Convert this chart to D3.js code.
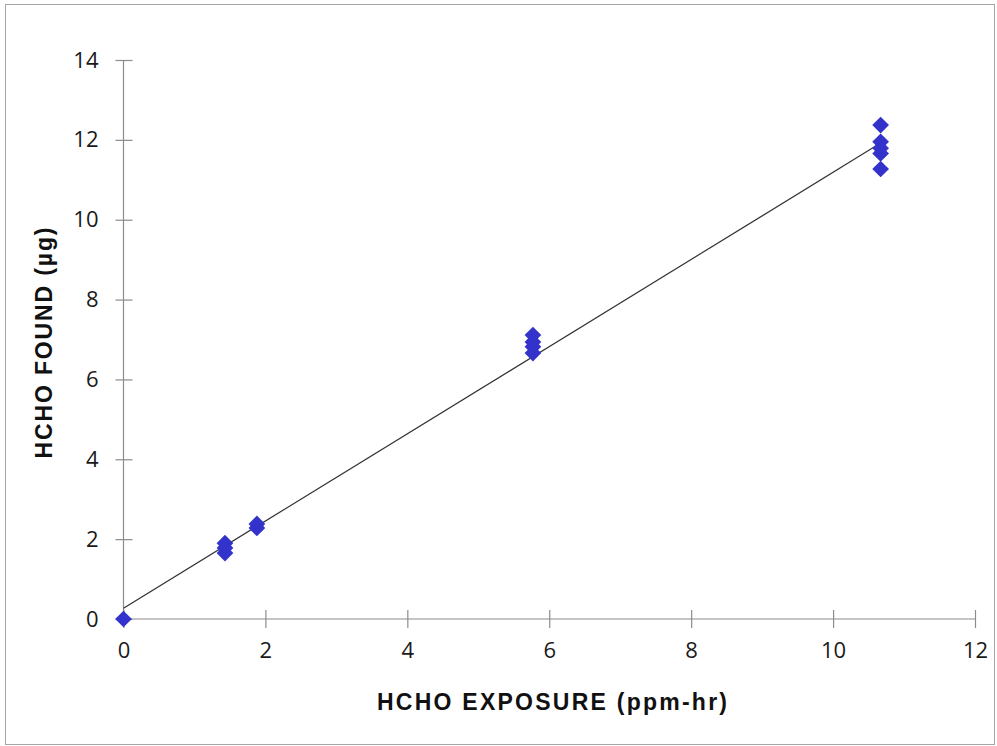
<!DOCTYPE html>
<html><head><meta charset="utf-8">
<script src="https://cdn.jsdelivr.net/npm/d3@7"></script>
<style>body{margin:0;background:#fff}</style>
</head><body>
<script>
const exposure = [0, 1.43, 1.43, 1.43, 1.88, 1.88, 5.77, 5.77, 5.77, 5.77, 10.67, 10.67, 10.67, 10.67, 10.67];
const found    = [0, 1.90, 1.78, 1.65, 2.38, 2.28, 7.11, 6.94, 6.82, 6.66, 12.37, 11.95, 11.79, 11.66, 11.27];
const trendX = [0, 10.67];
const trendY = [0.27, 11.92];
const xTicks = [0, 2, 4, 6, 8, 10, 12];
const yTicks = [0, 2, 4, 6, 8, 10, 12, 14];

const W = 997, H = 746;
const svg = d3.select("body").append("svg").attr("width", W).attr("height", H);
svg.append("rect").attr("x", 5.5).attr("y", 4.5).attr("width", 989).attr("height", 740)
  .attr("fill", "#fff").attr("stroke", "#a6a6a6").attr("stroke-width", 1);

const x = d3.scaleLinear().domain([0, 12]).range([123.5, 975]);
const y = d3.scaleLinear().domain([0, 14]).range([619, 60]);

const axisColor = "#8c8c8c";
const tickFont = "Open Sans, Liberation Sans, sans-serif";
// y axis
const gy = svg.append("g").attr("transform", `translate(${x(0)},0)`)
  .call(d3.axisLeft(y).tickValues(yTicks).tickSize(8).tickPadding(17).tickFormat(d3.format("d")));
gy.selectAll(".tick line").attr("x2", 9).attr("x1", -8);
// x axis
const gx = svg.append("g").attr("transform", `translate(0,${y(0)})`)
  .call(d3.axisBottom(x).tickValues(xTicks).tickSize(9).tickPadding(14).tickFormat(d3.format("d")));
gx.selectAll(".tick line").attr("y1", -9).attr("y2", 9);
[gx, gy].forEach(g => {
  g.select(".domain").attr("stroke", axisColor).attr("stroke-width", 1.2);
  g.selectAll(".tick line").attr("stroke", axisColor).attr("stroke-width", 1.2);
  g.selectAll(".tick text").attr("fill", "#1a1a1a").style("font-family", tickFont).style("font-size", "22px");
});
gy.selectAll(".tick text").attr("x", -25);
gx.select(".domain").attr("d", `M${x(0)},0H${x(12)}`);
gy.select(".domain").attr("d", `M0,${y(0)}V${y(14)}`);

// trend line
svg.append("line")
  .attr("x1", x(trendX[0])).attr("y1", y(trendY[0]))
  .attr("x2", x(trendX[1])).attr("y2", y(trendY[1]))
  .attr("stroke", "#333").attr("stroke-width", 1.2);

// points
const sym = d3.symbol().type(d3.symbolSquare).size(140);
svg.append("g").selectAll("path").data(exposure.map((d, i) => [d, found[i]])).join("path")
  .attr("d", sym)
  .attr("transform", d => `translate(${x(d[0])},${y(d[1])}) rotate(45)`)
  .attr("fill", "#3333cc");

// titles
svg.append("text").attr("x", 552).attr("y", 710).attr("text-anchor", "middle")
  .attr("textLength", 350).attr("lengthAdjust", "spacing")
  .style("font-family", "Liberation Sans, Arial, sans-serif").style("font-weight", "bold").style("font-size", "23px")
  .attr("fill", "#111").text("HCHO EXPOSURE (ppm-hr)");
svg.append("text").attr("transform", "translate(52,343) rotate(-90)").attr("text-anchor", "middle")
  .attr("textLength", 231).attr("lengthAdjust", "spacing")
  .style("font-family", "Liberation Sans, Arial, sans-serif").style("font-weight", "bold").style("font-size", "23px")
  .attr("fill", "#111").text("HCHO FOUND (µg)");
</script>
</body></html>
